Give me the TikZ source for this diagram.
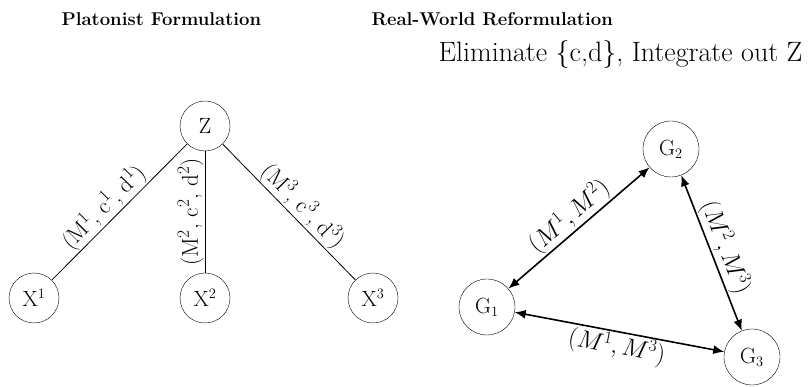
\documentclass[tikz,border=0pt]{standalone}
\usetikzlibrary{arrows.meta}
\begin{document}
\begin{tikzpicture}[x=1pt,y=-1pt,
  vnode/.style={draw,circle,minimum size=50pt,inner sep=0pt,font=\fontsize{22}{26}\selectfont},
  gnode/.style={draw,circle,minimum size=56pt,inner sep=0pt,font=\fontsize{22}{26}\selectfont},
  title/.style={font=\fontsize{18.5}{22}\selectfont\bfseries,anchor=west},
  lab/.style={font=\fontsize{23}{27}\selectfont,inner sep=1pt},
  thin edge/.style={line width=0.8pt},
  bi edge/.style={line width=1.6pt,{Latex[length=11pt,width=9pt]}-{Latex[length=11pt,width=9pt]}}]
\useasboundingbox (0,0) rectangle (809,387);
\node[title] (t1) at (58,19) {Platonist Formulation};
\node[title] (t2) at (368,19) {Real-World Reformulation};
\node[font=\fontsize{28}{33}\selectfont,anchor=east] (t3) at (806,55) {Eliminate \{c,d\}, Integrate out Z};
% left
\node[vnode] (Z) at (205,126) {Z};
\node[vnode] (X1) at (34,298) {X$^1$};
\node[vnode] (X2) at (205,298) {X$^2$};
\node[vnode] (X3) at (373,298) {X$^3$};
\draw[thin edge] (X1) -- node[lab,sloped,above,pos=0.46] {(M$^1$, c$^1$, d$^1$)} (Z);
\draw[thin edge] (X2) -- node[lab,sloped,above] {(M$^2$, c$^2$, d$^2$)} (Z);
\draw[thin edge] (Z) -- node[lab,sloped,above,pos=0.53] {(M$^3$, c$^3$, d$^3$)} (X3);
% right
\node[gnode] (G1) at (487,307) {G$_1$};
\node[gnode] (G2) at (671,149) {G$_2$};
\node[gnode] (G3) at (752,357) {G$_3$};
\draw[bi edge] (G1) -- node[lab,sloped,above] {$(M^1, M^2)$} (G2);
\draw[bi edge] (G2) -- node[lab,sloped,above] {$(M^2, M^3)$} (G3);
\draw[bi edge] (G1) -- node[lab,sloped,below] {$(M^1, M^3)$} (G3);
\end{tikzpicture}
\end{document}
